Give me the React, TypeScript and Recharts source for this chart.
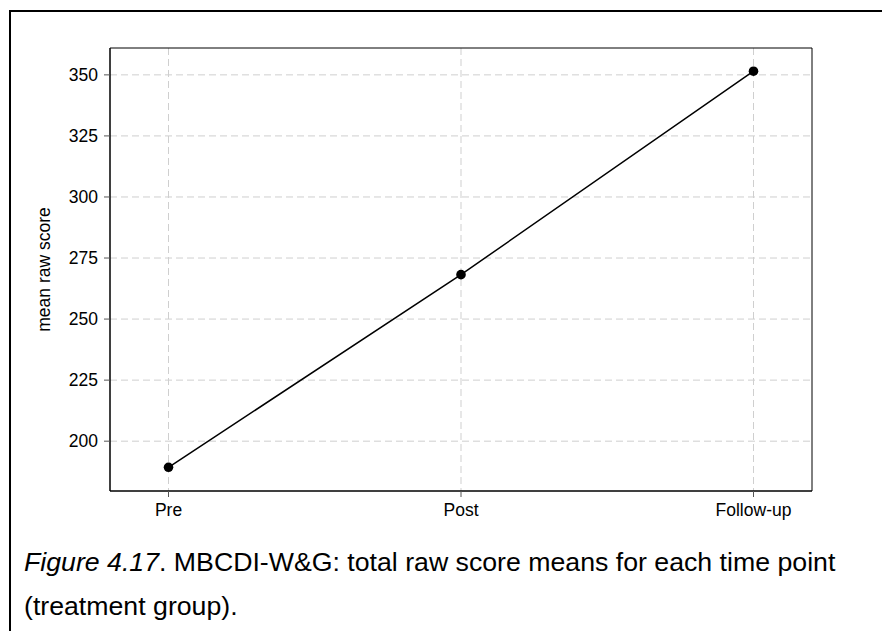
import React from "react"
import { LineChart, Line, XAxis, YAxis, CartesianGrid, ReferenceArea, Label } from "recharts"

const timePoints = ["Pre", "Post", "Follow-up"]
const meanRawScore = [189.3, 268.2, 351.5]
const yTicks = [200, 225, 250, 275, 300, 325, 350]

const FONT = "'Liberation Sans', Arial, sans-serif"

const chartData = timePoints.map((label, i) => ({ idx: i, label, score: meanRawScore[i] }))

const yLabel = (props: any) => {
  const vb = props.viewBox
  const x = vb.x - 10
  const y = vb.y + vb.height / 2
  return (
    <text x={x} y={y} transform={`rotate(-90, ${x}, ${y})`} textAnchor="middle" fontSize={17.5} fontFamily={FONT} fill="#000">
      mean raw score
    </text>
  )
}

export default function App() {
  return (
    <div style={{ position: "absolute", left: 0, top: 0, width: 882, height: 631, background: "#fff", fontFamily: FONT }}>
      <div style={{ position: "absolute", left: 9, top: 10, right: 0, bottom: 0, borderLeft: "2px solid #000", borderTop: "2px solid #000" }} />
      <div style={{ position: "absolute", left: 0, top: 0 }}>
        <LineChart width={882} height={540} data={chartData} margin={{ top: 48, right: 70, bottom: 19, left: 60 }}>
          <CartesianGrid stroke="#cfcfcf" strokeDasharray="7 4" horizontalValues={yTicks} verticalValues={[0, 1, 2]} />
          <XAxis
            dataKey="idx"
            type="number"
            domain={[-0.2, 2.2]}
            ticks={[0, 1, 2]}
            tickFormatter={(v: number) => timePoints[v]}
            height={30}
            tickSize={6}
            tickMargin={7}
            axisLine={{ stroke: "#000" }}
            tickLine={{ stroke: "#555" }}
            tick={{ fill: "#000", fontSize: 17.5, fontFamily: FONT }}
          />
          <YAxis
            type="number"
            domain={[179.6, 361]}
            ticks={yTicks}
            width={50}
            tickSize={6}
            tickMargin={6}
            axisLine={{ stroke: "#000" }}
            tickLine={{ stroke: "#555" }}
            tick={{ fill: "#000", fontSize: 17.5, fontFamily: FONT }}
          >
            <Label content={yLabel} />
          </YAxis>
          <ReferenceArea x1={-0.2} x2={2.2} y1={179.6} y2={361} fill="none" stroke="#000" strokeWidth={1} />
          <Line
            type="linear"
            dataKey="score"
            stroke="#000"
            strokeWidth={1.5}
            dot={{ r: 4.8, fill: "#000", stroke: "#000", strokeWidth: 0 }}
            activeDot={false}
            isAnimationActive={false}
          />
        </LineChart>
      </div>
      <svg width={882} height={631} style={{ position: "absolute", left: 0, top: 0, pointerEvents: "none" }}>
        <text x={24} y={571} fontSize={26.7} fontFamily={FONT} fill="#000">
          <tspan fontStyle="italic">Figure 4.17</tspan>. MBCDI-W&amp;G: total raw score means for each time point
        </text>
        <text x={24} y={615} fontSize={26.7} fontFamily={FONT} fill="#000">
          (treatment group).
        </text>
      </svg>
    </div>
  )
}
